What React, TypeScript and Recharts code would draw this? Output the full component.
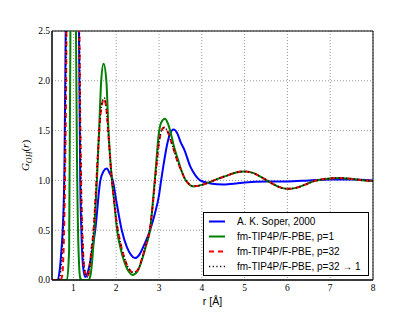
import React from "react";
import { LineChart, Line, XAxis, YAxis, CartesianGrid, ReferenceArea } from "recharts";

const soperR = [0.5, 0.62, 0.68, 0.72, 0.76, 0.79, 0.82, 0.87, 0.97, 1.07, 1.13, 1.16, 1.19, 1.23, 1.28, 1.33, 1.4, 1.51, 1.63, 1.7, 1.78, 1.85, 1.92, 2.0, 2.13, 2.25, 2.35, 2.44, 2.55, 2.65, 2.79, 2.9, 3.0, 3.05, 3.1, 3.2, 3.25, 3.34, 3.43, 3.5, 3.6, 3.73, 3.85, 3.96, 4.2, 4.5, 4.8, 5.0, 5.5, 6.0, 6.5, 7.0, 7.5, 8.0];
const soperG = [0, 0, 0.1, 0.3, 0.6, 1.1, 2.5, 5, 8, 5, 2.5, 1.0, 0.45, 0.12, 0.03, 0.07, 0.2, 0.5, 1.0, 1.09, 1.12, 1.07, 1.0, 0.8, 0.5, 0.33, 0.25, 0.22, 0.26, 0.35, 0.5, 0.66, 0.85, 1.0, 1.14, 1.38, 1.46, 1.51, 1.47, 1.39, 1.3, 1.14, 1.05, 1.0, 0.97, 0.96, 0.97, 0.98, 0.99, 0.99, 1.0, 1.01, 1.01, 1.0];

const p1R = [0.5, 0.85, 0.9, 0.93, 1.0, 1.06, 1.09, 1.12, 1.16, 1.2, 1.35, 1.4, 1.44, 1.49, 1.55, 1.6, 1.65, 1.705, 1.77, 1.82, 1.9, 1.95, 2.02, 2.1, 2.2, 2.3, 2.38, 2.5, 2.6, 2.7, 2.79, 2.86, 2.93, 2.99, 3.05, 3.14, 3.2, 3.26, 3.35, 3.45, 3.5, 3.6, 3.7, 3.8, 3.9, 4.0, 4.2, 4.4, 4.6, 4.8, 5.0, 5.2, 5.4, 5.6, 5.8, 6.0, 6.2, 6.4, 6.6, 6.8, 7.0, 7.2, 7.4, 7.6, 7.8, 8.0];
const p1G = [0, 0, 0.3, 2.5, 14, 2.5, 1.0, 0.3, 0.02, 0, 0, 0.05, 0.2, 0.5, 1.0, 1.5, 2.0, 2.17, 2.0, 1.5, 1.0, 0.8, 0.5, 0.32, 0.17, 0.08, 0.05, 0.09, 0.2, 0.35, 0.5, 0.8, 1.15, 1.45, 1.58, 1.62, 1.58, 1.5, 1.34, 1.2, 1.13, 1.02, 0.96, 0.94, 0.945, 0.955, 0.985, 1.02, 1.05, 1.08, 1.09, 1.075, 1.03, 0.98, 0.935, 0.915, 0.925, 0.955, 0.99, 1.01, 1.02, 1.025, 1.02, 1.01, 1.0, 0.995];

const p32R = [0.5, 0.7, 0.74, 0.77, 0.8, 0.83, 0.86, 0.96, 1.1, 1.14, 1.18, 1.22, 1.27, 1.32, 1.37, 1.42, 1.47, 1.52, 1.57, 1.62, 1.67, 1.72, 1.77, 1.82, 1.88, 1.95, 2.02, 2.1, 2.2, 2.3, 2.4, 2.5, 2.6, 2.7, 2.79, 2.86, 2.93, 3.0, 3.06, 3.12, 3.18, 3.26, 3.35, 3.45, 3.5, 3.6, 3.7, 3.8, 3.9, 4.0, 4.2, 4.4, 4.6, 4.8, 5.0, 5.2, 5.4, 5.6, 5.8, 6.0, 6.2, 6.4, 6.6, 6.8, 7.0, 7.2, 7.4, 7.6, 7.8, 8.0];
const p32G = [0, 0, 0.05, 0.3, 0.9, 2.0, 4, 8, 5, 2.5, 1.0, 0.35, 0.08, 0.03, 0.1, 0.3, 0.5, 0.85, 1.25, 1.6, 1.77, 1.82, 1.72, 1.45, 1.1, 0.8, 0.55, 0.37, 0.21, 0.11, 0.075, 0.1, 0.21, 0.36, 0.52, 0.78, 1.1, 1.38, 1.5, 1.53, 1.51, 1.42, 1.3, 1.17, 1.12, 1.02, 0.965, 0.945, 0.945, 0.955, 0.985, 1.02, 1.05, 1.08, 1.09, 1.075, 1.03, 0.98, 0.935, 0.915, 0.925, 0.955, 0.99, 1.01, 1.02, 1.025, 1.02, 1.01, 1.0, 0.995];

const p32to1R = [0.5, 0.66, 0.7, 0.75, 0.79, 0.83, 0.86, 0.96, 1.1, 1.14, 1.18, 1.22, 1.27, 1.32, 1.37, 1.42, 1.47, 1.52, 1.57, 1.62, 1.67, 1.72, 1.77, 1.82, 1.88, 1.95, 2.02, 2.1, 2.2, 2.3, 2.4, 2.5, 2.6, 2.7, 2.79, 2.86, 2.93, 3.0, 3.06, 3.12, 3.18, 3.26, 3.35, 3.45, 3.5, 3.6, 3.7, 3.8, 3.9, 4.0, 4.2, 4.4, 4.6, 4.8, 5.0, 5.2, 5.4, 5.6, 5.8, 6.0, 6.2, 6.4, 6.6, 6.8, 7.0, 7.2, 7.4, 7.6, 7.8, 8.0];
const p32to1G = [0, 0, 0.08, 0.4, 1.0, 2.5, 4.5, 8, 5, 2.5, 1.0, 0.35, 0.08, 0.03, 0.1, 0.3, 0.5, 0.85, 1.25, 1.6, 1.78, 1.83, 1.72, 1.45, 1.1, 0.8, 0.55, 0.37, 0.21, 0.11, 0.075, 0.1, 0.21, 0.36, 0.52, 0.78, 1.1, 1.38, 1.5, 1.53, 1.51, 1.42, 1.3, 1.17, 1.12, 1.02, 0.965, 0.945, 0.945, 0.955, 0.985, 1.02, 1.05, 1.08, 1.09, 1.075, 1.03, 0.98, 0.935, 0.915, 0.925, 0.955, 0.99, 1.01, 1.02, 1.025, 1.02, 1.01, 1.0, 0.995];

const xTicks = [1, 2, 3, 4, 5, 6, 7, 8];
const yTicks = [0, 0.5, 1.0, 1.5, 2.0, 2.5];
const seriesNames = [
  "A. K. Soper, 2000",
  "fm-TIP4P/F-PBE, p=1",
  "fm-TIP4P/F-PBE, p=32",
  "fm-TIP4P/F-PBE, p=32 \u2192 1",
];

const toRows = (rs: number[], gs: number[]) => rs.map((r, i) => ({ r, g: gs[i] }));

const soper = toRows(soperR, soperG);
const p1 = toRows(p1R, p1G);
const p32 = toRows(p32R, p32G);
const p32to1 = toRows(p32to1R, p32to1G);

const styles = [
  { stroke: "#0000ff", width: 2, dash: undefined as string | undefined },
  { stroke: "#008000", width: 2, dash: undefined as string | undefined },
  { stroke: "#ff0000", width: 2, dash: "5 4" },
  { stroke: "#000000", width: 1.5, dash: "1.2 2.5" },
];

const serif = "'Liberation Serif', 'DejaVu Serif', serif";
const sans = "'Liberation Sans', Arial, sans-serif";

const LegendBox = () => (
  <svg width={166} height={64} style={{ display: "block" }}>
    <rect x={0.5} y={0.5} width={165} height={63} fill="#fff" stroke="#000" strokeWidth={1} />
    {seriesNames.map((n, i) => (
      <g key={n}>
        <line
          x1={6}
          x2={22}
          y1={9.5 + i * 15}
          y2={9.5 + i * 15}
          stroke={styles[i].stroke}
          strokeWidth={styles[i].width}
          strokeDasharray={styles[i].dash}
        />
        <text x={34} y={13 + i * 15} fontFamily={sans} fontSize={10} fill="#000">
          {n}
        </text>
      </g>
    ))}
  </svg>
);

export default function App() {
  return (
    <div style={{ position: "relative", width: 400, height: 304 }}>
      <LineChart width={400} height={304} margin={{ top: 23, right: 35, bottom: 0, left: 0 }}>
        <CartesianGrid stroke="#999" strokeDasharray="1 2" horizontalValues={yTicks} verticalValues={xTicks} />
        <XAxis
          dataKey="r"
          type="number"
          domain={[0.5, 8]}
          ticks={xTicks}
          allowDataOverflow
          height={32}
          tickLine={false}
          tickSize={0}
          tickMargin={4}
          axisLine={{ stroke: "#000" }}
          tick={{ fill: "#000", fontSize: 9.5, fontFamily: serif }}
          label={{ value: "r [\u00c5]", position: "insideBottom", offset: 7, fill: "#000", fontSize: 10.5, fontFamily: sans }}
        />
        <YAxis
          dataKey="g"
          type="number"
          domain={[0, 2.5]}
          ticks={yTicks}
          allowDataOverflow
          width={44}
          tickLine={false}
          tickSize={0}
          tickMargin={2}
          axisLine={{ stroke: "#000" }}
          tickFormatter={(v: number) => v.toFixed(1)}
          tick={{ fill: "#000", fontSize: 9.5, fontFamily: serif }}
          label={{
            content: () => (
              <text
                x={21}
                y={147.5}
                transform="rotate(-90 21 147.5)"
                textAnchor="middle"
                fontFamily={serif}
                fontSize={11}
                fontStyle="italic"
                fill="#000"
              >
                G
                <tspan fontSize={8} dy={2.5}>OH</tspan>
                <tspan dy={-2.5} fontStyle="normal">(</tspan>
                <tspan>r</tspan>
                <tspan fontStyle="normal">)</tspan>
              </text>
            ),
          }}
        />
        <Line data={soper} dataKey="g" type="monotone" stroke={styles[0].stroke} strokeWidth={styles[0].width} dot={false} isAnimationActive={false} />
        <Line data={p1} dataKey="g" type="monotone" stroke={styles[1].stroke} strokeWidth={styles[1].width} dot={false} isAnimationActive={false} />
        <Line data={p32} dataKey="g" type="monotone" stroke={styles[2].stroke} strokeWidth={styles[2].width} strokeDasharray={styles[2].dash} dot={false} isAnimationActive={false} />
        <Line data={p32to1} dataKey="g" type="monotone" stroke={styles[3].stroke} strokeWidth={styles[3].width} strokeDasharray={styles[3].dash} dot={false} isAnimationActive={false} />
        <ReferenceArea x1={0.5} x2={8} y1={0} y2={2.5} fill="none" fillOpacity={0} stroke="#000" strokeWidth={1} ifOverflow="visible" />
      </LineChart>
      <div style={{ position: "absolute", left: 195, top: 204 }}>
        <LegendBox />
      </div>
    </div>
  );
}
